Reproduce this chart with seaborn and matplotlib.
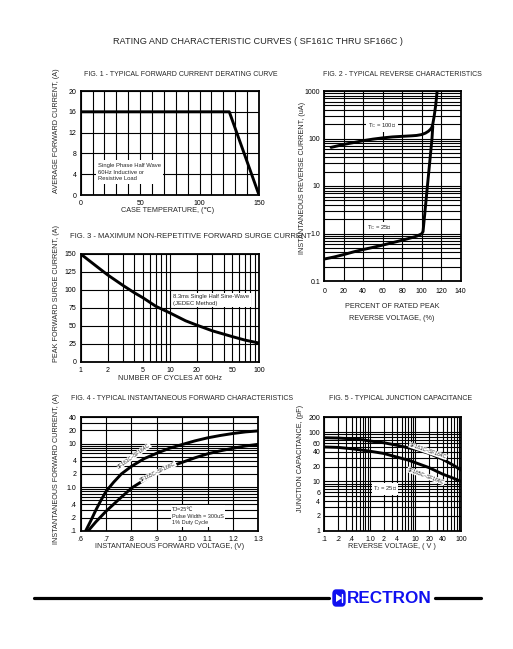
import numpy as np
import pandas as pd
import matplotlib
matplotlib.use("Agg")
import matplotlib.pyplot as plt
import seaborn as sns
from matplotlib.patches import FancyBboxPatch, Polygon
from matplotlib.lines import Line2D

# ---------------- data ----------------
fig1_temp = [0, 125, 150]
fig1_current = [16, 16, 0]

fig2_pct_100 = [7, 15, 20, 30, 40, 50, 60, 70, 80, 90, 95, 100, 104, 107, 109, 110.5, 111.5, 113, 114.5, 116]
fig2_ua_100 = [65, 71, 75, 82, 90, 97, 103, 108, 111, 114, 116, 121, 130, 142, 155, 170, 200, 300, 500, 1000]
fig2_pct_25 = [0, 10, 20, 30, 40, 50, 60, 70, 80, 90, 95, 100, 101.5, 106, 110.7, 111.5]
fig2_ua_25 = [0.29, 0.32, 0.36, 0.41, 0.46, 0.51, 0.57, 0.64, 0.72, 0.82, 0.88, 0.98, 1.1, 10, 100, 180]

fig3_cycles = [1, 1.5, 2, 3, 4, 5, 7, 10, 15, 20, 30, 50, 70, 100]
fig3_current = [150, 133, 121, 106, 96, 89, 77, 68, 57, 51, 43, 35, 30, 26]

fig4_v_a = [0.62, 0.64, 0.66, 0.68, 0.70, 0.73, 0.76, 0.80, 0.85, 0.90, 0.95, 1.00, 1.05, 1.10, 1.15, 1.20, 1.25, 1.30]
fig4_i_a = [0.1, 0.17, 0.3, 0.5, 0.8, 1.3, 2.0, 3.0, 4.5, 6.0, 7.8, 9.5, 11.5, 13.5, 15.3, 17, 18.5, 19.5]
fig4_v_b = [0.63, 0.66, 0.70, 0.75, 0.80, 0.85, 0.90, 0.95, 1.00, 1.05, 1.10, 1.15, 1.20, 1.25, 1.30]
fig4_i_b = [0.1, 0.16, 0.28, 0.52, 0.95, 1.45, 2.1, 2.9, 3.7, 4.7, 5.8, 6.8, 7.8, 8.8, 9.6]

fig5_v = [0.1, 0.2, 0.4, 0.7, 1, 2, 4, 7, 10, 20, 40, 70, 100]
fig5_c_a = [77, 76, 73, 70, 66, 61, 54, 48, 45, 37, 28, 21, 17]
fig5_c_b = [50, 49, 46, 43, 41, 37, 31, 27, 24, 19, 14, 11.5, 10]

fig2_xticks = [0, 20, 40, 60, 80, 100, 120, 140]
fig2_yticks = [0.1, 1, 10, 100, 1000]
fig2_ylabels = ["0.1", "1.0", "10", "100", "1000"]
fig3_xticks = [1, 2, 5, 10, 20, 50, 100]
fig4_xticks = [0.6, 0.7, 0.8, 0.9, 1.0, 1.1, 1.2, 1.3]
fig4_xlabels = [".6", ".7", ".8", ".9", "1.0", "1.1", "1.2", "1.3"]
fig4_yticks = [0.1, 0.2, 0.4, 1, 2, 4, 10, 20, 40]
fig4_ylabels = [".1", ".2", ".4", "1.0", "2", "4", "10", "20", "40"]
fig5_xticks = [0.1, 0.2, 0.4, 1, 2, 4, 10, 20, 40, 100]
fig5_xlabels = [".1", ".2", ".4", "1.0", "2", "4", "10", "20", "40", "100"]
fig5_yticks = [1, 2, 4, 6, 10, 20, 40, 60, 100, 200]

# ---------------- style ----------------
sns.set_style("white")
plt.rcParams["font.family"] = ["Liberation Sans", "DejaVu Sans"]
plt.rcParams["axes.linewidth"] = 1.2

W, H = 513, 649
fig = plt.figure(figsize=(W / 100, H / 100), dpi=100)
fig.patch.set_facecolor("white")


def px_axes(x0, y0, x1, y1):
    return fig.add_axes([x0 / W, 1 - y1 / H, (x1 - x0) / W, (y1 - y0) / H])


def ftext(x, y, s, **kw):
    kw.setdefault("fontsize", 5.0)
    kw.setdefault("ha", "left")
    kw.setdefault("va", "center")
    return fig.text(x / W, 1 - y / H, s, transform=fig.transFigure, **kw)


def logminor(lo_exp, hi_val):
    vals = []
    for e in range(lo_exp, 4):
        for m in range(1, 10):
            v = m * 10.0 ** e
            if v <= hi_val * 1.0001:
                vals.append(v)
    return vals


def style_ax(ax, xpad=3.5, ypad=3):
    ax.tick_params(axis="both", which="both", length=0, labelsize=5, colors="black")
    ax.tick_params(axis="x", pad=xpad)
    ax.tick_params(axis="y", pad=ypad)
    for s in ax.spines.values():
        s.set_color("black")
        s.set_linewidth(1.3)
    ax.set_xlabel("")
    ax.set_ylabel("")
    ax.set_axisbelow(True)


GRID = dict(color="black", linewidth=0.8)
LINE = dict(color="black", linewidth=2.1)
WBOX = dict(facecolor="white", edgecolor="none", pad=1.0)

# ---------------- FIG 1 ----------------
ax1 = px_axes(80.7, 91, 259, 195)
df1 = pd.DataFrame({"t": fig1_temp, "i": fig1_current})
sns.lineplot(data=df1, x="t", y="i", ax=ax1, **LINE)
ax1.set_xlim(0, 150)
ax1.set_ylim(0, 20)
ax1.set_xticks([0, 50, 100, 150])
ax1.set_yticks([0, 4, 8, 12, 16, 20])
ax1.set_xticks(np.arange(0, 151, 10), minor=True)
ax1.grid(which="both", **GRID)
style_ax(ax1)
ftext(84, 75, "FIG. 1 - TYPICAL FORWARD CURRENT DERATING CURVE")
ftext(57, 131, "AVERAGE FORWARD CURRENT, (A)", rotation=90, ha="center", fontsize=5.2)
ftext(168, 211, "CASE TEMPERATURE, (\u2103)", ha="center", fontsize=5.2)
ftext(98, 172, "Single Phase Half Wave\n60Hz Inductive or\nResistive Load", fontsize=4.2,
      linespacing=1.5, bbox=dict(facecolor="white", edgecolor="none", pad=1.5))

# ---------------- FIG 2 ----------------
ax2 = px_axes(324.3, 91, 460.5, 281)
df2a = pd.DataFrame({"p": fig2_pct_100, "u": fig2_ua_100})
df2b = pd.DataFrame({"p": fig2_pct_25, "u": fig2_ua_25})
sns.lineplot(data=df2a, x="p", y="u", ax=ax2, **LINE)
sns.lineplot(data=df2b, x="p", y="u", ax=ax2, **LINE)
ax2.set_yscale("log")
ax2.set_xlim(0, 140)
ax2.set_ylim(0.1, 1000)
ax2.set_xticks(fig2_xticks)
ax2.set_yticks(fig2_yticks)
ax2.set_yticklabels(fig2_ylabels)
ax2.set_yticks(logminor(-1, 1000), minor=True)
ax2.yaxis.set_minor_formatter(matplotlib.ticker.NullFormatter())
ax2.grid(which="both", **GRID)
style_ax(ax2, xpad=5)
ftext(323, 75, "FIG. 2 - TYPICAL REVERSE CHARACTERISTICS")
ftext(302, 178, "INSTANTANEOUS REVERSE CURRENT, (uA)", rotation=90, ha="center", fontsize=5.2)
ftext(392, 307, "PERCENT OF RATED PEAK", ha="center", fontsize=5.2)
ftext(392, 319, "REVERSE VOLTAGE, (%)", ha="center", fontsize=5.2)
ftext(382, 126, "T$_\\mathregular{C}$ = 100\u2103", ha="center", fontsize=4.2, bbox=WBOX)
ftext(380, 228, "T$_\\mathregular{C}$ = 25\u2103", ha="center", fontsize=4.2, bbox=WBOX)

# ---------------- FIG 3 ----------------
ax3 = px_axes(80.7, 254, 259, 361.7)
df3 = pd.DataFrame({"n": fig3_cycles, "i": fig3_current})
sns.lineplot(data=df3, x="n", y="i", ax=ax3, **LINE)
ax3.set_xscale("log")
ax3.set_xlim(1, 100)
ax3.set_ylim(0, 150)
ax3.set_xticks(fig3_xticks)
ax3.set_xticklabels([str(v) for v in fig3_xticks])
ax3.set_xticks(logminor(0, 100), minor=True)
ax3.xaxis.set_minor_formatter(matplotlib.ticker.NullFormatter())
ax3.set_yticks([0, 25, 50, 75, 100, 125, 150])
ax3.grid(which="both", **GRID)
style_ax(ax3)
ftext(70, 236.5, "FIG. 3 - MAXIMUM NON-REPETITIVE FORWARD SURGE CURRENT", fontsize=5.5)
ftext(57, 294, "PEAK FORWARD SURGE CURRENT, (A)", rotation=90, ha="center", fontsize=5.2)
ftext(170, 379, "NUMBER OF CYCLES AT 60Hz", ha="center", fontsize=5.2)
ftext(173, 300, "8.3ms Single Half Sine-Wave\n(JEDEC Method)", fontsize=4.2, linespacing=1.5,
      bbox=WBOX)

# ---------------- FIG 4 ----------------
ax4 = px_axes(80.7, 417.3, 258.3, 530.7)
df4a = pd.DataFrame({"v": fig4_v_a, "i": fig4_i_a})
df4b = pd.DataFrame({"v": fig4_v_b, "i": fig4_i_b})
sns.lineplot(data=df4a, x="v", y="i", ax=ax4, **LINE)
sns.lineplot(data=df4b, x="v", y="i", ax=ax4, **LINE)
ax4.set_yscale("log")
ax4.set_xlim(0.6, 1.3)
ax4.set_ylim(0.1, 40)
ax4.set_xticks(fig4_xticks)
ax4.set_xticklabels(fig4_xlabels)
ax4.set_yticks(fig4_yticks)
ax4.set_yticklabels(fig4_ylabels)
ax4.set_yticks(logminor(-1, 40), minor=True)
ax4.yaxis.set_minor_formatter(matplotlib.ticker.NullFormatter())
ax4.grid(which="both", **GRID)
style_ax(ax4)
ftext(71, 398, "FIG. 4 - TYPICAL INSTANTANEOUS FORWARD CHARACTERISTICS")
ftext(57, 469, "INSTANTANEOUS FORWARD CURRENT, (A)", rotation=90, ha="center", fontsize=5.2)
ftext(170, 547, "INSTANTANEOUS FORWARD VOLTAGE, (V)", ha="center", fontsize=5.2)
ftext(134, 456, "SF161C~SF164C", ha="center", fontsize=3.6, rotation=36,
      bbox=dict(facecolor="white", edgecolor="none", pad=0.3))
ftext(158, 472, "SF165C~SF166C", ha="center", fontsize=3.6, rotation=26,
      bbox=dict(facecolor="white", edgecolor="none", pad=0.3))
ftext(172, 516, "TJ=25\u2103\nPulse Width = 300uS\n1% Duty Cycle", fontsize=4.0, linespacing=1.45,
      bbox=WBOX)

# ---------------- FIG 5 ----------------
ax5 = px_axes(324.3, 417.3, 461, 530.7)
df5a = pd.DataFrame({"v": fig5_v, "c": fig5_c_a})
df5b = pd.DataFrame({"v": fig5_v, "c": fig5_c_b})
sns.lineplot(data=df5a, x="v", y="c", ax=ax5, **LINE)
sns.lineplot(data=df5b, x="v", y="c", ax=ax5, **LINE)
ax5.set_xscale("log")
ax5.set_yscale("log")
ax5.set_xlim(0.1, 100)
ax5.set_ylim(1, 200)
ax5.set_xticks(fig5_xticks)
ax5.set_xticklabels(fig5_xlabels)
ax5.set_xticks(logminor(-1, 100), minor=True)
ax5.xaxis.set_minor_formatter(matplotlib.ticker.NullFormatter())
ax5.set_yticks(fig5_yticks)
ax5.set_yticklabels([str(v) for v in fig5_yticks])
ax5.set_yticks(logminor(0, 200), minor=True)
ax5.yaxis.set_minor_formatter(matplotlib.ticker.NullFormatter())
ax5.grid(which="both", **GRID)
style_ax(ax5)
ftext(329, 398, "FIG. 5 - TYPICAL JUNCTION CAPACITANCE")
ftext(300, 458, "JUNCTION CAPACITANCE, (pF)", rotation=90, ha="center", fontsize=5.2)
ftext(392, 547, "REVERSE VOLTAGE, ( V )", ha="center", fontsize=5.2)
ftext(428, 451, "SF161C~SF164C", ha="center", fontsize=3.6, rotation=-19,
      bbox=dict(facecolor="white", edgecolor="none", pad=0.3))
ftext(426, 476, "SF165C~SF166C", ha="center", fontsize=3.6, rotation=-20,
      bbox=dict(facecolor="white", edgecolor="none", pad=0.3))
ftext(385, 489, "T$_\\mathregular{J}$ = 25\u2103", ha="center", fontsize=4.2, bbox=WBOX)

# ---------------- main title ----------------
ftext(258, 42, "RATING AND CHARACTERISTIC CURVES ( SF161C THRU SF166C )", ha="center", fontsize=6.6)

# ---------------- footer ----------------
def fx(x):
    return x / W


def fy(y):
    return 1 - y / H


fig.add_artist(Line2D([fx(34), fx(329)], [fy(598), fy(598)], color="black", lw=2.3,
                      transform=fig.transFigure))
fig.add_artist(Line2D([fx(435), fx(481)], [fy(598), fy(598)], color="black", lw=2.3,
                      transform=fig.transFigure))
blue = "#1010f0"
logo = FancyBboxPatch((fx(333), fy(606)), fx(345) - fx(333), fy(590) - fy(606),
                      boxstyle="round,pad=0.0,rounding_size=0.006", transform=fig.transFigure,
                      facecolor=blue, edgecolor=blue)
fig.add_artist(logo)
tri = Polygon([(fx(336), fy(594)), (fx(336), fy(602)), (fx(342), fy(598))], closed=True,
              transform=fig.transFigure, facecolor="white", edgecolor="none")
fig.add_artist(tri)
fig.add_artist(Line2D([fx(342.3), fx(342.3)], [fy(594), fy(602)], color="white", lw=1.0,
                      transform=fig.transFigure))
ftext(346.5, 598.5, "RECTRON", fontsize=12.3, fontweight="bold", color=blue, va="center")

fig.savefig("out.png", dpi=100, facecolor="white")
